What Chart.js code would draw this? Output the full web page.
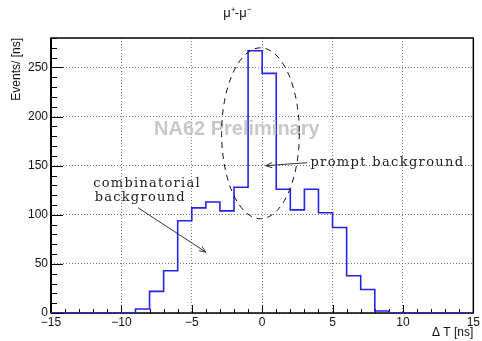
<!DOCTYPE html>
<html lang="en">
<head>
    <meta charset="UTF-8">
    <title>mu+ mu- time difference</title>
    <script src="https://cdn.jsdelivr.net/npm/chart.js"></script>
    <style>
        html, body {margin: 0; padding: 0; background: #fff;}
        canvas {display: block;}
    </style>
</head>
<body>
    <canvas id="dt_canvas" width="482" height="341"></canvas>
    <script>
        // histogram: low edge of each 1 ns bin and its content
        const binLow = [-15, -14, -13, -12, -11, -10, -9, -8, -7, -6, -5, -4, -3, -2, -1,
                        0, 1, 2, 3, 4, 5, 6, 7, 8, 9, 10, 11, 12, 13, 14];
        const counts = [0, 0, 0, 0, 0, 0, 4, 22, 43, 94, 107, 113, 104, 128, 267,
                        244, 126, 105, 126, 102, 87, 38, 24, 2, 0, 0, 0, 0, 0, 0];
        const xTicks = [-15, -10, -5, 0, 5, 10, 15];
        const yTicks = [0, 50, 100, 150, 200, 250];

        const titleText = 'μ⁺-μ⁻';
        const xTitle = 'Δ T [ns]';
        const yTitle = 'Events/ [ns]';
        const watermark = 'NA62 Preliminary';
        const promptLabel = 'prompt background';
        const combLabel = ['combinatorial', 'background'];

        const sans = '"Liberation Sans", Arial, sans-serif';
        const serif = '"DejaVu Serif", "Liberation Serif", serif';

        // points for the stepped line, closing at the upper edge of the last bin
        const points = binLow.map((x, i) => ({x: x, y: counts[i]}));
        points.push({x: binLow[binLow.length - 1] + 1, y: 0});

        function arrow(ctx, x1, y1, x2, y2) {
            const a = Math.atan2(y2 - y1, x2 - x1);
            const len = 7, spread = 0.38;
            ctx.beginPath();
            ctx.moveTo(x1, y1);
            ctx.lineTo(x2, y2);
            ctx.moveTo(x2 - len * Math.cos(a - spread), y2 - len * Math.sin(a - spread));
            ctx.lineTo(x2, y2);
            ctx.lineTo(x2 - len * Math.cos(a + spread), y2 - len * Math.sin(a + spread));
            ctx.stroke();
        }

        // ROOT style frame with inside ticks
        const frame = {
            id: 'frame',
            beforeDatasetsDraw(chart) {
                const {ctx, chartArea: a, scales: {x, y}} = chart;
                ctx.save();
                ctx.strokeStyle = '#000';
                ctx.lineWidth = 1;
                ctx.beginPath();
                for (let v = x.min; v <= x.max; v += 1) {
                    const p = Math.round(x.getPixelForValue(v)) + 0.5;
                    const l = xTicks.includes(v) ? 8 : 4;
                    ctx.moveTo(p, a.bottom);
                    ctx.lineTo(p, a.bottom - l);
                }
                for (let v = 0; v <= y.max; v += 10) {
                    const p = Math.round(y.getPixelForValue(v)) + 0.5;
                    const l = yTicks.includes(v) ? 12 : 6;
                    ctx.moveTo(a.left, p);
                    ctx.lineTo(a.left + l, p);
                }
                ctx.stroke();
                ctx.lineWidth = 1.5;
                ctx.strokeRect(a.left, a.top, a.right - a.left, a.bottom - a.top);
                ctx.lineWidth = 2;
                ctx.beginPath();
                ctx.moveTo(a.left, a.top);
                ctx.lineTo(a.left, a.bottom);
                ctx.stroke();
                ctx.restore();
            }
        };

        const annotate = {
            id: 'annotate',
            afterDatasetsDraw(chart) {
                const {ctx, scales: {x, y}} = chart;
                const px = v => x.getPixelForValue(v);
                const py = v => y.getPixelForValue(v);
                ctx.save();

                ctx.font = 'bold 20px ' + sans;
                ctx.fillStyle = '#c8c8c8';
                ctx.textAlign = 'center';
                ctx.textBaseline = 'alphabetic';
                ctx.fillText(watermark, px(-1.8), py(181));

                ctx.strokeStyle = '#111';
                ctx.lineWidth = 1;
                ctx.setLineDash([6, 5]);
                ctx.beginPath();
                ctx.ellipse(px(-0.12), py(183), px(2.64) - px(-0.12), py(0) - py(87), 0, 0, 2 * Math.PI);
                ctx.stroke();
                ctx.setLineDash([]);

                ctx.fillStyle = '#222';
                ctx.font = '13px ' + serif;
                ctx.textAlign = 'left';
                ctx.letterSpacing = '1.35px';
                ctx.fillText(promptLabel, px(3.43), py(150));
                ctx.letterSpacing = '1.25px';
                ctx.fillText(combLabel[0], px(-12.0), py(128));
                ctx.fillText(combLabel[1], px(-11.9), py(114.5));
                ctx.letterSpacing = '0px';

                ctx.strokeStyle = '#333';
                arrow(ctx, px(3.2), py(153), px(0.25), py(150));
                arrow(ctx, px(-8.8), py(107), px(-4.0), py(62));
                ctx.restore();
            }
        };

        const minusSign = v => String(v).replace('-', '\u2212');

        new Chart(document.getElementById('dt_canvas'), {
            type: 'line',
            data: {
                datasets: [{
                    data: points,
                    stepped: true,
                    borderColor: 'rgb(35, 35, 235)',
                    borderWidth: 1.6,
                    pointRadius: 0,
                    fill: false
                }]
            },
            options: {
                responsive: false,
                animation: false,
                layout: {padding: {left: 0, right: 8, top: 0, bottom: 0}},
                plugins: {
                    legend: {display: false},
                    tooltip: {enabled: false},
                    title: {
                        display: true,
                        text: titleText,
                        color: '#111',
                        font: {family: sans, size: 13, weight: 'normal'},
                        padding: {top: 6, bottom: 16.4}
                    }
                },
                scales: {
                    x: {
                        type: 'linear',
                        min: -15,
                        max: 15,
                        afterBuildTicks: s => { s.ticks = xTicks.map(v => ({value: v})); },
                        afterFit: s => { s.height = 28; },
                        grid: {color: '#777', lineWidth: 1, drawTicks: false},
                        border: {display: false, dash: [1, 2]},
                        ticks: {
                            color: '#111',
                            padding: 2,
                            maxRotation: 0,
                            font: {family: sans, size: 12},
                            callback: v => minusSign(v)
                        },
                        title: {
                            display: true,
                            text: xTitle,
                            align: 'end',
                            color: '#111',
                            font: {family: sans, size: 12},
                            padding: {top: 0, bottom: 1}
                        }
                    },
                    y: {
                        min: 0,
                        max: 280,
                        afterBuildTicks: s => { s.ticks = yTicks.map(v => ({value: v})); },
                        afterFit: s => { s.width = 51; },
                        grid: {color: '#777', lineWidth: 1, drawTicks: false},
                        border: {display: false, dash: [1, 2]},
                        ticks: {
                            color: '#111',
                            padding: 3,
                            font: {family: sans, size: 12}
                        },
                        title: {
                            display: true,
                            text: yTitle,
                            align: 'end',
                            color: '#111',
                            font: {family: sans, size: 12},
                            padding: {top: 9.5, bottom: 0}
                        }
                    }
                }
            },
            plugins: [frame, annotate]
        });
    </script>
</body>
</html>
